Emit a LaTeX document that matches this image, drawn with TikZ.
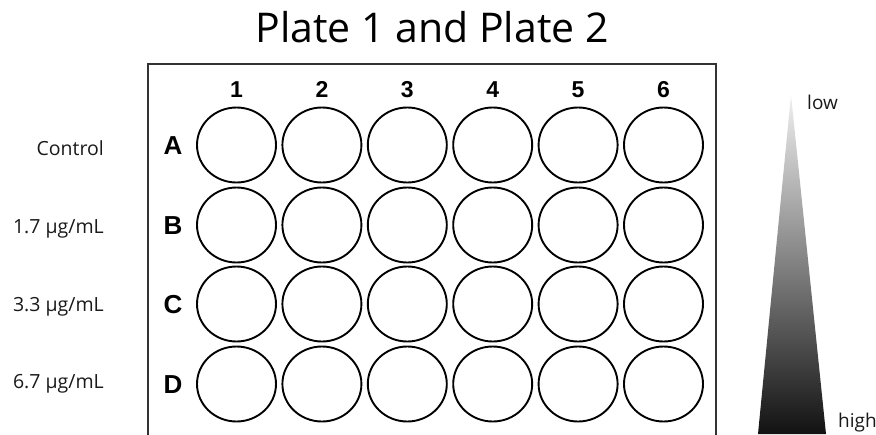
\documentclass[tikz,border=0pt]{standalone}
\usepackage{fontspec}
\usetikzlibrary{shapes.geometric}
\setmainfont{Open Sans}
\newfontfamily\arialfont{Liberation Sans}
\begin{document}
\begin{tikzpicture}[x=1pt,y=-1pt,
  well/.style={draw=black,line width=1.9pt,ellipse,minimum width=79pt,minimum height=75pt,inner sep=0pt},
  colnum/.style={font=\arialfont\bfseries\fontsize{23}{25}\selectfont,text=black,anchor=base,inner sep=0pt},
  rowlet/.style={font=\arialfont\bfseries\fontsize{26}{28}\selectfont,text=black,anchor=base,inner sep=0pt},
  conc/.style={font=\fontsize{19.5}{23}\selectfont,anchor=base east,inner sep=0pt,text=black!90},
  scalelab/.style={font=\fontsize{19}{23}\selectfont,text=black!90,anchor=base west,inner sep=0pt}]
\useasboundingbox (0,0) rectangle (876,434);
\begin{scope}
\clip (0,0) rectangle (876,434);
\draw[line width=2pt,draw=black!80] (148,64) rectangle (716,450);
\shade[top color=black!6,bottom color=black!93] (791,95) -- (826,434) -- (758,434) -- cycle;
\end{scope}
\node[font=\fontsize{41}{48}\selectfont,anchor=base,inner sep=0pt] (title) at (432,42) {Plate 1 and Plate 2};
\foreach \c [count=\i] in {236.5,321.9,407.3,492.7,578.1,663.5}{
  \node[colnum] (col\i) at (\c,97) {\i};
}
\foreach \r/\y/\b in {A/145/154,B/225/234,C/304/313,D/384/393}{
  \node[rowlet] (row\r) at (173,\b) {\r};
  \foreach \c [count=\i] in {236.5,321.9,407.3,492.7,578.1,663.5}{
    \node[well] (w\r\i) at (\c,\y) {};
  }
}
\node[conc] (cctrl) at (104,155) {Control};
\node[conc] (c17) at (104,233) {1.7 µg/mL};
\node[conc] (c33) at (104,311) {3.3 µg/mL};
\node[conc] (c67) at (104,388) {6.7 µg/mL};
\node[scalelab] (low) at (807,109) {low};
\node[scalelab] (high) at (838,427) {high};
\end{tikzpicture}
\end{document}
